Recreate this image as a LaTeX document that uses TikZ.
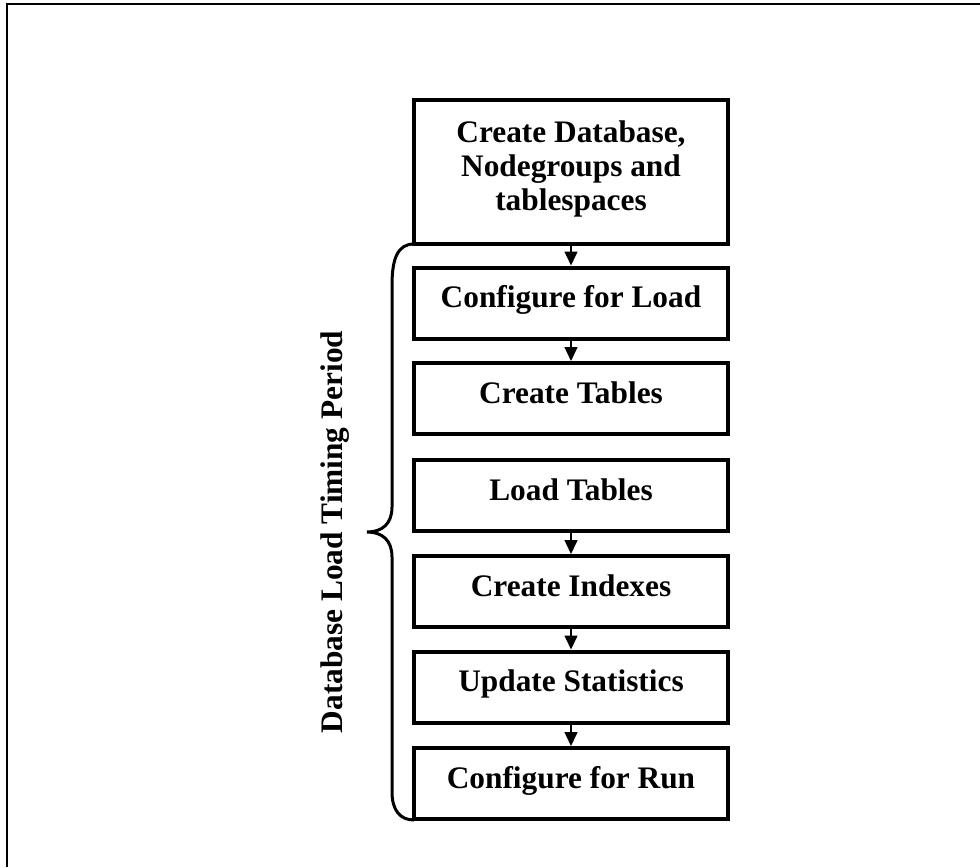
\documentclass[tikz,border=0pt]{standalone}
\usepackage{fontspec}
\setmainfont{Liberation Serif}
\usetikzlibrary{arrows.meta}
\begin{document}
\begin{tikzpicture}[x=0.75pt,y=-0.75pt,
  txt/.style={font=\bfseries\fontsize{23.5}{25.5}\selectfont},
  box/.style={txt,draw,line width=3pt,minimum width=235.5pt,align=center,inner sep=0pt},
  sbox/.style={box,minimum height=53.25pt,text height=0.72em,text depth=0pt},
  arr/.style={-{Triangle[length=10.5pt,width=9.75pt]},line width=1.1pt},
  frame/.style={line width=1.5pt},
  bracepath/.style={line width=2.25pt}]
\useasboundingbox (0,0) rectangle (980,867);
\draw[frame] (7,867) -- (7,4) -- (980,4);
\node[box,minimum height=108pt] (b1) at (571,172)
  {\raisebox{1.5pt}[\height][\depth]{\begin{tabular}{@{}c@{}}Create Database,\\ Nodegroups and\\ tablespaces\end{tabular}}};
\node[sbox] (b2) at (571,303) {Configure for Load};
\node[sbox] (b3) at (571,398.5) {Create Tables};
\node[sbox] (b4) at (571,495.5) {Load Tables};
\node[sbox] (b5) at (571,591.5) {Create Indexes};
\node[sbox] (b6) at (571,687) {Update Statistics};
\node[sbox] (b7) at (571,783.5) {Configure for Run};
\draw[arr] (b1) -- (b2);
\draw[arr] (b2) -- (b3);
\draw[arr] (b4) -- (b5);
\draw[arr] (b5) -- (b6);
\draw[arr] (b6) -- (b7);
\coordinate (bt) at (414,244);
\coordinate (bm) at (367,532);
\coordinate (bb) at (414,820);
\draw[bracepath] (bt) .. controls (398,244) and (392,258) .. (392,285)
  -- (392,507) .. controls (392,524) and (382,532) .. (bm)
  .. controls (382,532) and (392,540) .. (392,557)
  -- (392,792) .. controls (392,810) and (400,820) .. (bb);
\node[txt,rotate=90] (lbl) at (335,532) {Database Load Timing Period};
\end{tikzpicture}
\end{document}
